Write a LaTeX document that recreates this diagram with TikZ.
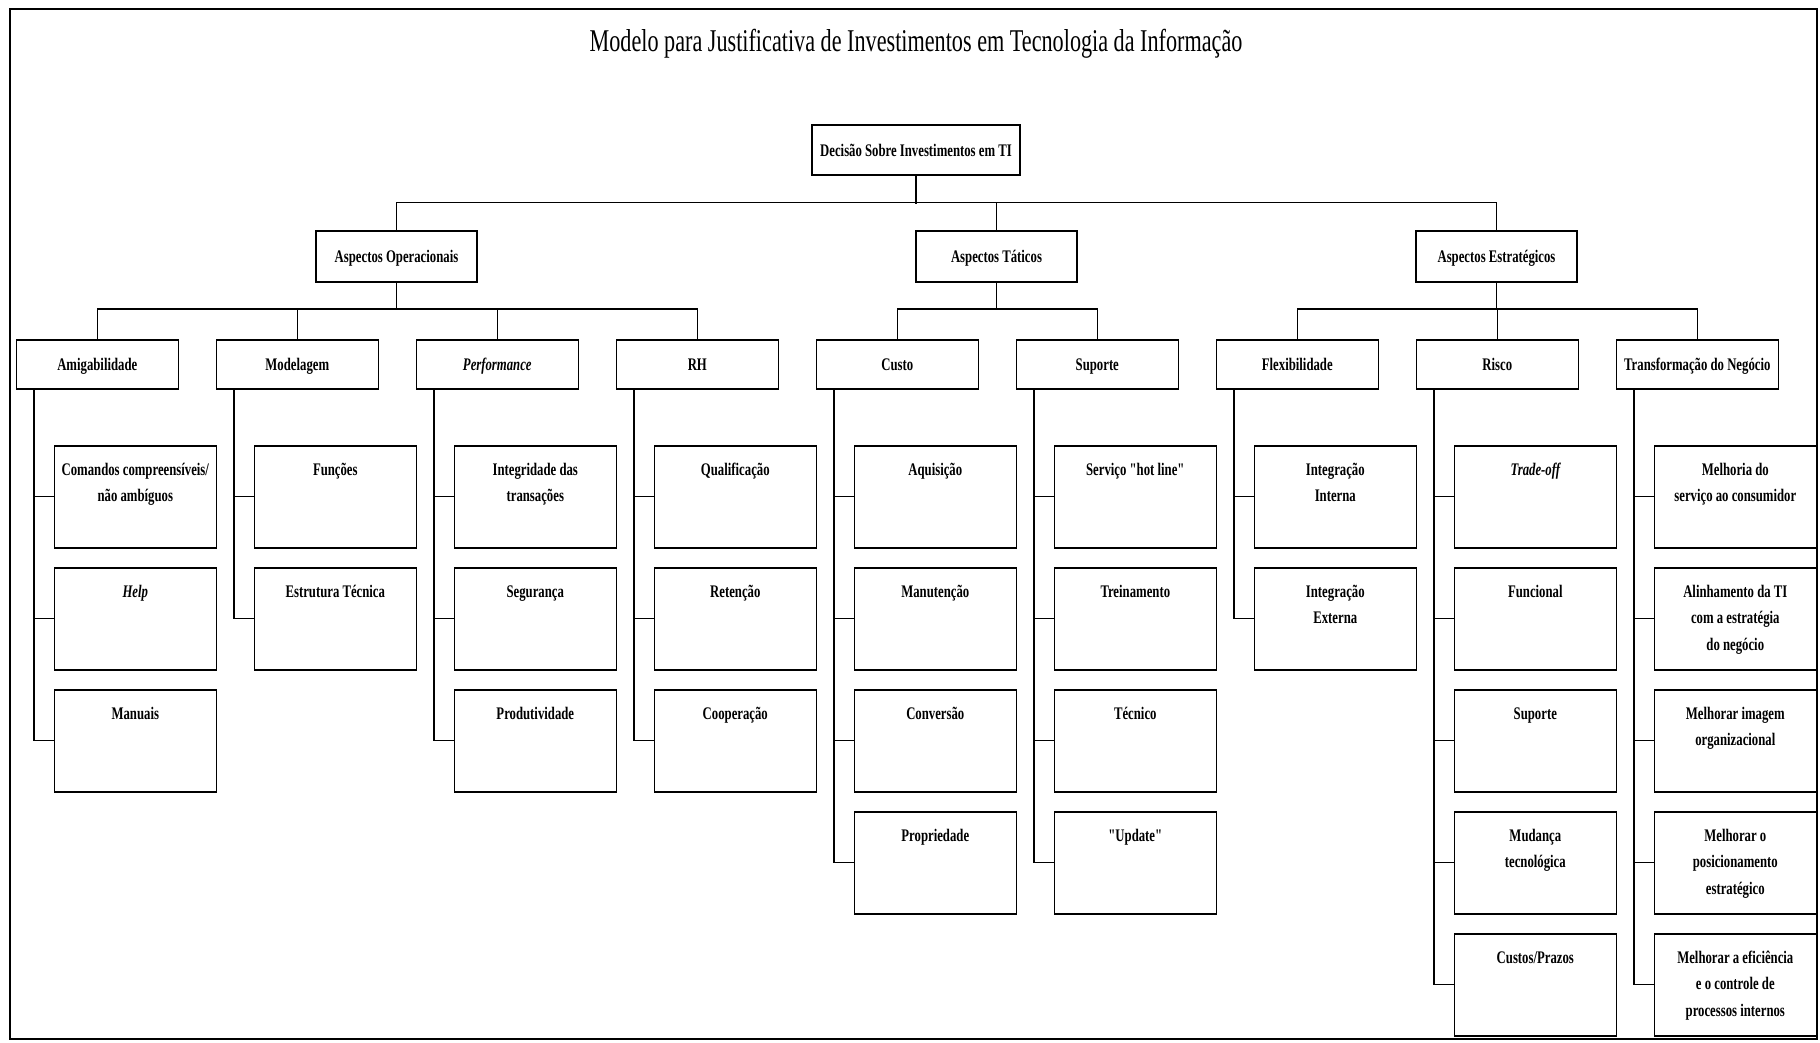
\documentclass[tikz,border=0pt]{standalone}
\usepackage{fontspec}
\setmainfont{Liberation Serif}[FakeStretch=0.72]
\newfontfamily\titlefont{Liberation Serif}[FakeStretch=0.70]
\font\qfb="Liberation Serif/B:extend=0.72" at 17.7pt
\newcommand\lftxt[1]{\parbox[c][102pt][t]{162pt}{\centering\rule{0pt}{29.5pt}#1\par}}
\begin{document}
\begin{tikzpicture}[x=1pt,y=-1pt,
  box/.style={draw, line width=1.6pt, inner sep=0pt,
    font=\fontsize{17.7}{26.5}\selectfont\bfseries,
    text height=12.5pt, text depth=0pt, minimum height=49pt, minimum width=162pt},
  lvtwo/.style={box, anchor=north west},
  leaf/.style={draw, line width=1.6pt, inner sep=0pt, anchor=north west,
    font=\fontsize{17.7}{26.5}\selectfont\bfseries},
  link/.style={line width=1.2pt}]
\useasboundingbox (0,0) rectangle (1820,1042);
\draw[line width=2pt] (10,9) rectangle (1817,1039);

\node[anchor=base, font=\titlefont\fontsize{31.7}{38}\selectfont] (title) at (916,51)
  {Modelo para Justificativa de Investimentos em Tecnologia da Informação};

% level 0 and 1
\node[box, minimum width=208pt, minimum height=50pt] (dec) at (916,150) {Decisão Sobre Investimentos em TI};
\node[box, minimum width=161pt, minimum height=51pt] (op) at (396.5,256.5) {Aspectos Operacionais};
\node[box, minimum width=161pt, minimum height=51pt] (ta) at (996.5,256.5) {Aspectos Táticos};
\node[box, minimum width=161pt, minimum height=51pt] (es) at (1496.5,256.5) {Aspectos Estratégicos};

% level 2
\node[lvtwo] (am) at (15.5,339) {Amigabilidade};
\node[lvtwo] (mo) at (215.5,339) {Modelagem};
\node[lvtwo] (pe) at (415.5,339) {\itshape Performance};
\node[lvtwo] (rh) at (615.5,339) {RH};
\node[lvtwo] (cu) at (815.5,339) {Custo};
\node[lvtwo] (su) at (1015.5,339) {Suporte};
\node[lvtwo] (fl) at (1215.5,339) {Flexibilidade};
\node[lvtwo] (ri) at (1415.5,339) {Risco};
\node[lvtwo] (tr) at (1615.5,339) {Transformação do Negócio};

% leaves
\node[leaf] (am1) at (53.5,445) {\lftxt{Comandos compreensíveis/\\não ambíguos}};
\node[leaf] (am2) at (53.5,567) {\lftxt{\itshape Help}};
\node[leaf] (am3) at (53.5,689) {\lftxt{Manuais}};

\node[leaf] (mo1) at (253.5,445) {\lftxt{Funções}};
\node[leaf] (mo2) at (253.5,567) {\lftxt{Estrutura Técnica}};

\node[leaf] (pe1) at (453.5,445) {\lftxt{Integridade das\\transações}};
\node[leaf] (pe2) at (453.5,567) {\lftxt{Segurança}};
\node[leaf] (pe3) at (453.5,689) {\lftxt{Produtividade}};

\node[leaf] (rh1) at (653.5,445) {\lftxt{Qualificação}};
\node[leaf] (rh2) at (653.5,567) {\lftxt{Retenção}};
\node[leaf] (rh3) at (653.5,689) {\lftxt{Cooperação}};

\node[leaf] (cu1) at (853.5,445) {\lftxt{Aquisição}};
\node[leaf] (cu2) at (853.5,567) {\lftxt{Manutenção}};
\node[leaf] (cu3) at (853.5,689) {\lftxt{Conversão}};
\node[leaf] (cu4) at (853.5,811) {\lftxt{Propriedade}};

\node[leaf] (su1) at (1053.5,445) {\lftxt{Serviço {\qfb"}hot line{\qfb"}}};
\node[leaf] (su2) at (1053.5,567) {\lftxt{Treinamento}};
\node[leaf] (su3) at (1053.5,689) {\lftxt{Técnico}};
\node[leaf] (su4) at (1053.5,811) {\lftxt{{\qfb"}Update{\qfb"}}};

\node[leaf] (fl1) at (1253.5,445) {\lftxt{Integração\\Interna}};
\node[leaf] (fl2) at (1253.5,567) {\lftxt{Integração\\Externa}};

\node[leaf] (ri1) at (1453.5,445) {\lftxt{\itshape Trade-off}};
\node[leaf] (ri2) at (1453.5,567) {\lftxt{Funcional}};
\node[leaf] (ri3) at (1453.5,689) {\lftxt{Suporte}};
\node[leaf] (ri4) at (1453.5,811) {\lftxt{Mudança\\tecnológica}};
\node[leaf] (ri5) at (1453.5,933) {\lftxt{Custos/Prazos}};

\node[leaf] (tr1) at (1653.5,445) {\lftxt{Melhoria do\\serviço ao consumidor}};
\node[leaf] (tr2) at (1653.5,567) {\lftxt{Alinhamento da TI\\com a estratégia\\do negócio}};
\node[leaf] (tr3) at (1653.5,689) {\lftxt{Melhorar imagem\\organizacional}};
\node[leaf] (tr4) at (1653.5,811) {\lftxt{Melhorar o\\posicionamento\\estratégico}};
\node[leaf] (tr5) at (1653.5,933) {\lftxt{Melhorar a eficiência\\e o controle de\\processos internos}};

% connectors: top levels
\draw[link] (dec.south) -- ++(0,28);
\draw[link] (op.north) -- ++(0,-28) -| (es.north);
\draw[link] (ta.north) -- ++(0,-28);

\draw[link] (op.south) -- ++(0,27);
\draw[link] (am.north) -- ++(0,-30) -| (rh.north);
\draw[link] (mo.north) -- ++(0,-30);
\draw[link] (pe.north) -- ++(0,-30);

\draw[link] (ta.south) -- ++(0,27);
\draw[link] (cu.north) -- ++(0,-30) -| (su.north);

\draw[link] (es.south) -- ++(0,27);
\draw[link] (fl.north) -- ++(0,-30) -| (tr.north);
\draw[link] (ri.north) -- ++(0,-30);

% spines
\foreach \n in {am1,am2,am3} \draw[link] ([xshift=18.5pt]am.south west) |- (\n.west);
\foreach \n in {mo1,mo2} \draw[link] ([xshift=18.5pt]mo.south west) |- (\n.west);
\foreach \n in {pe1,pe2,pe3} \draw[link] ([xshift=18.5pt]pe.south west) |- (\n.west);
\foreach \n in {rh1,rh2,rh3} \draw[link] ([xshift=18.5pt]rh.south west) |- (\n.west);
\foreach \n in {cu1,cu2,cu3,cu4} \draw[link] ([xshift=18.5pt]cu.south west) |- (\n.west);
\foreach \n in {su1,su2,su3,su4} \draw[link] ([xshift=18.5pt]su.south west) |- (\n.west);
\foreach \n in {fl1,fl2} \draw[link] ([xshift=18.5pt]fl.south west) |- (\n.west);
\foreach \n in {ri1,ri2,ri3,ri4,ri5} \draw[link] ([xshift=18.5pt]ri.south west) |- (\n.west);
\foreach \n in {tr1,tr2,tr3,tr4,tr5} \draw[link] ([xshift=18.5pt]tr.south west) |- (\n.west);
\end{tikzpicture}
\end{document}
